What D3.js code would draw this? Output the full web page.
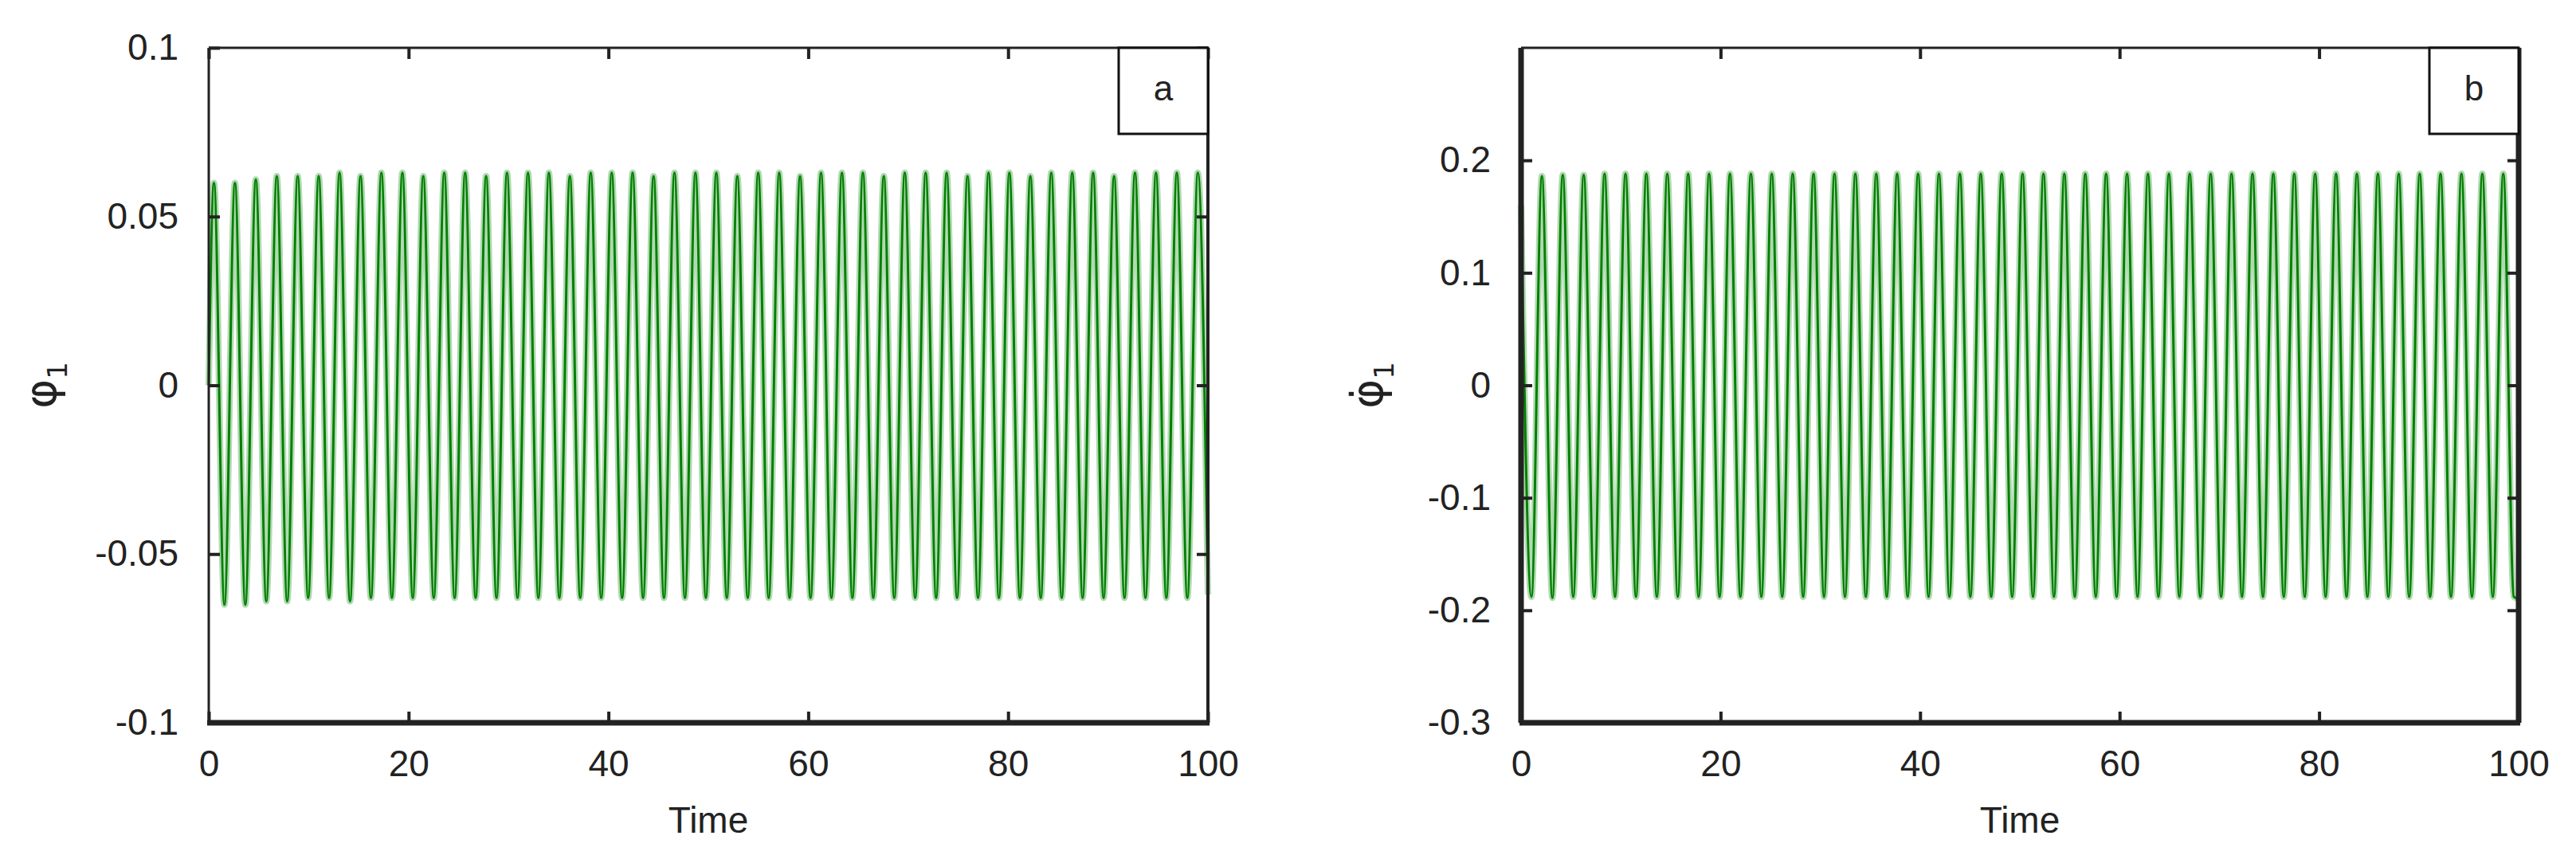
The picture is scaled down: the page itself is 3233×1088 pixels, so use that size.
<!DOCTYPE html>
<html>
<head>
<meta charset="utf-8">
<style>
  body { margin: 0; background: #fff; }
  svg text { font-family: "Liberation Sans Narrow", "Liberation Sans", Arial, sans-serif; fill: #222; }
</style>
</head>
<body>
<svg width="3233" height="1088"></svg>
<script src="https://cdn.jsdelivr.net/npm/d3@7"></script>
<script>
// times of the extrema of phi_1 (peak, trough, peak, ...)
var extremaT = [0.52,1.57,2.62,3.66,4.71,5.76,6.81,7.85,8.90,9.95,11.00,12.04,13.09,14.14,15.19,16.23,17.28,18.33,19.38,20.42,
  21.47,22.52,23.57,24.61,25.66,26.71,27.76,28.80,29.85,30.90,31.95,32.99,34.04,35.09,36.14,37.18,38.23,39.28,40.33,41.37,
  42.42,43.47,44.52,45.56,46.61,47.66,48.71,49.75,50.80,51.85,52.90,53.94,54.99,56.04,57.09,58.13,59.18,60.23,61.28,62.32,
  63.37,64.42,65.47,66.51,67.56,68.61,69.66,70.70,71.75,72.80,73.85,74.89,75.94,76.99,78.04,79.08,80.13,81.18,82.23,83.27,
  84.32,85.37,86.42,87.46,88.51,89.56,90.61,91.65,92.70,93.75,94.80,95.84,96.89,97.94,98.99];
// panel a: phi_1 peaks and troughs
var aPeaks = [0.060,0.060,0.061,0.062,0.062,0.062,0.063,0.062,0.063,0.063,0.062,0.063,0.063,0.062,0.063,0.063,
  0.063,0.062,0.063,0.063,0.063,0.062,0.063,0.063,0.063,0.062,0.063,0.063,0.062,0.063,0.063,0.063,
  0.062,0.063,0.063,0.063,0.062,0.063,0.063,0.062,0.063,0.063,0.063,0.062,0.063,0.063,0.063,0.063];
var aTroughs = [-0.065,-0.065,-0.064,-0.064,-0.063,-0.063,-0.064,-0.063,-0.063,-0.063,-0.063,-0.063,-0.063,-0.063,-0.063,-0.063,
  -0.063,-0.063,-0.063,-0.063,-0.063,-0.063,-0.063,-0.063,-0.063,-0.063,-0.063,-0.063,-0.063,-0.063,-0.063,-0.063,
  -0.063,-0.063,-0.063,-0.063,-0.063,-0.063,-0.063,-0.063,-0.063,-0.063,-0.063,-0.063,-0.063,-0.063,-0.063];
var aStart = [0, 0.0], aEnd = [100, -0.062];
// panel b: phi_1 dot peaks and troughs (extrema sit a quarter period after those of phi_1)
var bShift = 0.52;
var bTroughs = [-0.188,-0.189,-0.188,-0.188,-0.188,-0.188,-0.188,-0.188,-0.188,-0.188,-0.188,-0.188,-0.188,-0.188,-0.188,-0.188,
  -0.188,-0.188,-0.188,-0.188,-0.188,-0.188,-0.188,-0.188,-0.188,-0.188,-0.188,-0.188,-0.188,-0.188,-0.188,-0.188,
  -0.188,-0.188,-0.188,-0.188,-0.188,-0.188,-0.188,-0.188,-0.188,-0.188,-0.188,-0.188,-0.188,-0.188,-0.188,-0.188];
var bPeaks = [0.186,0.187,0.187,0.188,0.188,0.188,0.188,0.188,0.188,0.188,0.188,0.188,0.188,0.188,0.188,0.188,
  0.188,0.188,0.188,0.188,0.188,0.188,0.188,0.188,0.188,0.188,0.188,0.188,0.188,0.188,0.188,0.188,
  0.188,0.188,0.188,0.188,0.188,0.188,0.188,0.188,0.188,0.188,0.188,0.188,0.188,0.188,0.188];
var bStart = [0, 0.16], bEnd = [100, -0.19];

var xTicks = [0, 20, 40, 60, 80, 100];
var aTicks = [-0.1, -0.05, 0, 0.05, 0.1];
var bTicks = [-0.3, -0.2, -0.1, 0, 0.1, 0.2];

function series(peaks, troughs, shift, start, end) {
  var pts = [start];
  extremaT.forEach(function(t, i) {
    var v = i % 2 === 0 ? peaks[i / 2] : troughs[(i - 1) / 2];
    if (v !== undefined && t + shift < 100) pts.push([t + shift, v]);
  });
  pts.push(end);
  return pts;
}

var svg = d3.select('svg');

function panel(o) {
  var x = d3.scaleLinear().domain([0, 100]).range([o.left, o.right]);
  var y = d3.scaleLinear().domain(o.domain).range([o.bottom, o.top]);
  var g = svg.append('g');

  var line = d3.line().x(function(d) { return x(d[0]); }).y(function(d) { return y(d[1]); }).curve(d3.curveMonotoneX);
  g.append('path').attr('d', line(o.data)).attr('fill', 'none').attr('stroke', 'rgba(0,128,0,0.3)').attr('stroke-width', 8);
  g.append('path').attr('d', line(o.data)).attr('fill', 'none').attr('stroke', '#008000').attr('stroke-width', 3);

  // frame
  var w = o.widths;
  g.append('line').attr('x1', o.left).attr('x2', o.right).attr('y1', o.top).attr('y2', o.top).attr('stroke', '#222').attr('stroke-width', w[0]);
  g.append('line').attr('x1', o.right).attr('x2', o.right).attr('y1', o.top).attr('y2', o.bottom).attr('stroke', '#222').attr('stroke-width', w[1]);
  g.append('line').attr('x1', o.left - 2).attr('x2', o.right + 2).attr('y1', o.bottom).attr('y2', o.bottom).attr('stroke', '#222').attr('stroke-width', w[2]);
  g.append('line').attr('x1', o.left).attr('x2', o.left).attr('y1', o.top).attr('y2', o.bottom).attr('stroke', '#222').attr('stroke-width', w[3]);

  var fmt = function(d) { return String(+d.toFixed(2)); };
  var bottomAxis = d3.axisBottom(x).tickValues(xTicks).tickSize(-14).tickPadding(34).tickFormat(fmt);
  var topAxis = d3.axisTop(x).tickValues(xTicks).tickSize(-14).tickFormat('');
  var leftAxis = d3.axisLeft(y).tickValues(o.ticks).tickSize(-14).tickPadding(38).tickFormat(fmt);
  var rightAxis = d3.axisRight(y).tickValues(o.ticks).tickSize(-14).tickFormat('');
  [[bottomAxis, 'translate(0,' + o.bottom + ')'], [topAxis, 'translate(0,' + o.top + ')'],
   [leftAxis, 'translate(' + o.left + ',0)'], [rightAxis, 'translate(' + o.right + ',0)']].forEach(function(a) {
    var ax = g.append('g').attr('transform', a[1]).call(a[0]);
    ax.select('.domain').remove();
    ax.selectAll('.tick line').attr('stroke', '#222').attr('stroke-width', 4);
    ax.selectAll('.tick text').style('font-size', '46px').attr('fill', '#222');
  });

  // label box
  g.append('rect').attr('x', o.right - 112).attr('y', o.top).attr('width', 112).attr('height', 108)
    .attr('fill', '#fff').attr('stroke', '#111').attr('stroke-width', 3);
  g.append('text').attr('x', o.right - 56).attr('y', o.top + 66).attr('text-anchor', 'middle')
    .style('font-size', '44px').text(o.tag);

  g.append('text').attr('x', (o.left + o.right) / 2).attr('y', 1045).attr('text-anchor', 'middle')
    .style('font-size', '46px').text('Time');

  var yl = g.append('text').attr('transform', 'translate(' + o.ylx + ',' + y(0) + ') rotate(-90)')
    .attr('text-anchor', 'middle').style('font-size', '56px').style('font-family', '"DejaVu Sans", sans-serif');
  yl.append('tspan').text(o.ysym);
  yl.append('tspan').attr('dy', 14).style('font-size', '34px').text('1');
}

panel({ left: 262, right: 1516, top: 60, bottom: 907, domain: [-0.1, 0.1], ticks: aTicks, tag: 'a',
  data: series(aPeaks, aTroughs, 0, aStart, aEnd), widths: [3, 4, 7, 3], ylx: 70, ysym: 'φ' });
panel({ left: 1909, right: 3161, top: 60, bottom: 907, domain: [-0.3, 0.3], ticks: bTicks, tag: 'b',
  data: series(bTroughs, bPeaks, bShift, bStart, bEnd), widths: [3, 7, 7, 7], ylx: 1735, ysym: 'φ\u0307' });
</script>
</body>
</html>
